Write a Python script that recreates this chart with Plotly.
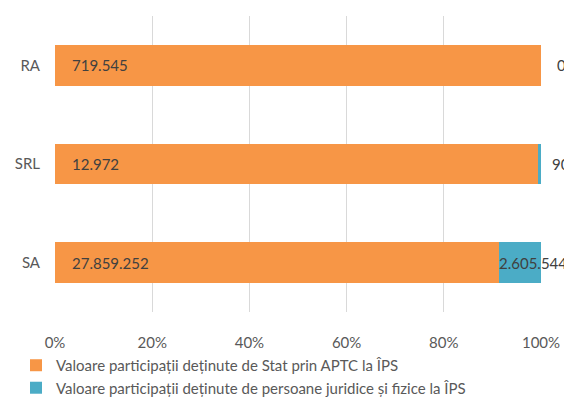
import plotly.graph_objects as go

categories = ["SA", "SRL", "RA"]
stat_values = [27859252, 12972, 719545]
private_values = [2605544, 90, 0]
series_names = [
    "Valoare participații deținute de Stat prin APTC la ÎPS",
    "Valoare participații deținute de persoane juridice și fizice la ÎPS",
]
tick_vals = [0, 20, 40, 60, 80, 100]
tick_text = ["0%", "20%", "40%", "60%", "80%", "100%"]

ORANGE = "#F79646"
BLUE = "#4BACC6"
TEXT = "#595959"
LABEL = "#404040"
FONT = "Lato"


def fmt(v):
    return f"{v:,}".replace(",", ".")


fig = go.Figure()
fig.add_trace(go.Bar(y=categories, x=stat_values, orientation="h", name=series_names[0],
                     marker=dict(color=ORANGE, line=dict(width=0)), width=0.41, hoverinfo="skip"))
fig.add_trace(go.Bar(y=categories, x=private_values, orientation="h", name=series_names[1],
                     marker=dict(color=BLUE, line=dict(width=0)), width=0.41, hoverinfo="skip"))

# data labels
for cat, s, p in zip(categories, stat_values, private_values):
    fig.add_annotation(x=0, y=cat, text=fmt(s), showarrow=False, xanchor="left", xshift=15,
                       font=dict(family=FONT, size=15, color=LABEL))
    # labels of the second series sit near the 100% end
    shift = -8 if p / (s + p) > 0.05 else 20
    fig.add_annotation(x=100, y=cat, text=fmt(p), showarrow=False, xanchor="center", xshift=shift,
                       font=dict(family=FONT, size=15, color=LABEL))

# page body has an 8px margin, so the figure is kept inside the window
fig.update_layout(
    barmode="stack",
    barnorm="percent",
    width=564, height=390,
    margin=dict(l=47, r=31, t=8, b=86, autoexpand=False),
    paper_bgcolor="white", plot_bgcolor="white",
    font=dict(family=FONT, size=15, color=TEXT),
    showlegend=True,
    legend=dict(orientation="v", xref="container", yref="container", x=0.0142, y=0.1257,
                xanchor="left", yanchor="top",
                font=dict(family=FONT, size=15, color=TEXT), traceorder="normal",
                itemwidth=30, tracegroupgap=0),
)
fig.update_xaxes(range=[0, 100], tickvals=tick_vals, ticktext=tick_text, showgrid=True,
                 gridcolor="#D9D9D9", gridwidth=1, zeroline=False, showline=False,
                 ticklabelstandoff=20, fixedrange=True, automargin=False)
fig.update_yaxes(showgrid=False, zeroline=False, showline=False, ticklabelstandoff=14,
                 range=[-0.5, 2.5], fixedrange=True, automargin=False)

fig.write_html("out.html")
